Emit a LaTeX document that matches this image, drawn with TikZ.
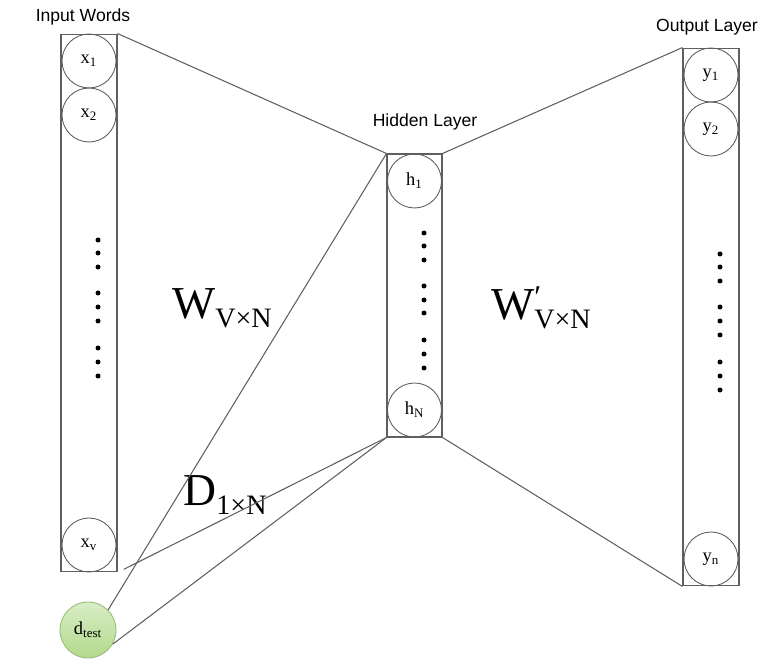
\documentclass[tikz,border=0pt]{standalone}
\usepackage{fontspec}
\setmainfont{Liberation Serif}
\newfontfamily\labelfont{Liberation Sans}
\usepackage{tikz}

\definecolor{linegray}{RGB}{95,95,95}
\definecolor{dgreen}{RGB}{178,218,140}
\definecolor{dgreenedge}{RGB}{150,190,120}

\newcommand{\bigsub}[1]{\raisebox{-0.45ex}{\fontsize{16}{16}\selectfont #1}}

\begin{document}
\begin{tikzpicture}[x=0.02cm,y=-0.02cm]
		\tikzstyle{layer}=[draw=linegray,line width=0.6pt,rectangle,inner sep=0pt]
		\tikzstyle{unit}=[draw=linegray,line width=0.5pt,circle,inner sep=0pt,minimum size=1.08cm,font=\fontsize{10.5}{11}\selectfont]
		\tikzstyle{title}=[font=\labelfont\fontsize{10}{10}\selectfont]
		\tikzstyle{weight}=[font=\fontsize{26}{26}\selectfont]
		\tikzstyle{link}=[draw=linegray,line width=0.6pt]
		\useasboundingbox (0,0) rectangle (784,665);
		% input words
		\node [layer,minimum width=1.12cm,minimum height=10.76cm] at (89,303) (inp) {};
		\node [unit] at (89,61) (x1) {x\textsubscript{1}};
		\node [unit] at (89,115) (x2) {x\textsubscript{2}};
		\node [unit] at (89,545) (xv) {x\textsubscript{v}};
		\foreach \y in {240,253,267,293,307,321,348,362,376}
			\fill (98,\y) circle (0.05cm);
		\node [title] at (83,17) (inptitle) {Input Words};
		% hidden layer
		\node [layer,minimum width=1.1cm,minimum height=5.66cm] at (414.5,295.5) (hid) {};
		\node [unit] at (414.5,181) (h1) {h\textsubscript{1}};
		\node [unit] at (414.5,410) (hN) {h\textsubscript{N}};
		\foreach \y in {233,246,260,286,300,313,340,354,368}
			\fill (424,\y) circle (0.05cm);
		\node [title] at (425,122) (hidtitle) {Hidden Layer};
		% output layer
		\node [layer,minimum width=1.12cm,minimum height=10.76cm] at (711,317) (out) {};
		\node [unit] at (711,75) (y1) {y\textsubscript{1}};
		\node [unit] at (711,129) (y2) {y\textsubscript{2}};
		\node [unit] at (711,559) (yn) {y\textsubscript{n}};
		\foreach \y in {254,267,281,307,321,335,362,376,390}
			\fill (720,\y) circle (0.05cm);
		\node [title] at (707,27) (outtitle) {Output Layer};
		% test document
		\node [unit,draw=dgreenedge,top color=dgreen!50,bottom color=dgreen,minimum size=1.12cm] at (88,630) (dtest) {d\textsubscript{test}};
		% weights
		\node [weight] at (222,308) (win) {W\bigsub{V×N}};
		\node [weight] at (541,308) (wout) {W\rlap{\raisebox{0.55ex}{\fontsize{18}{18}\selectfont ′}}\bigsub{V×N}};
		\node [weight] at (225,495) (dw) {D\bigsub{1×N}};
		% links
		\draw [link] (inp.north east) -- (hid.north west);
		\draw [link,shorten <=0.14cm] (inp.south east) -- (hid.south west);
		\draw [link] (dtest.45) -- (hid.north west);
		\draw [link] (dtest.-30) -- (hid.south west);
		\draw [link] (hid.north east) -- (out.north west);
		\draw [link] (hid.south east) -- (out.south west);
	\end{tikzpicture}
\end{document}
